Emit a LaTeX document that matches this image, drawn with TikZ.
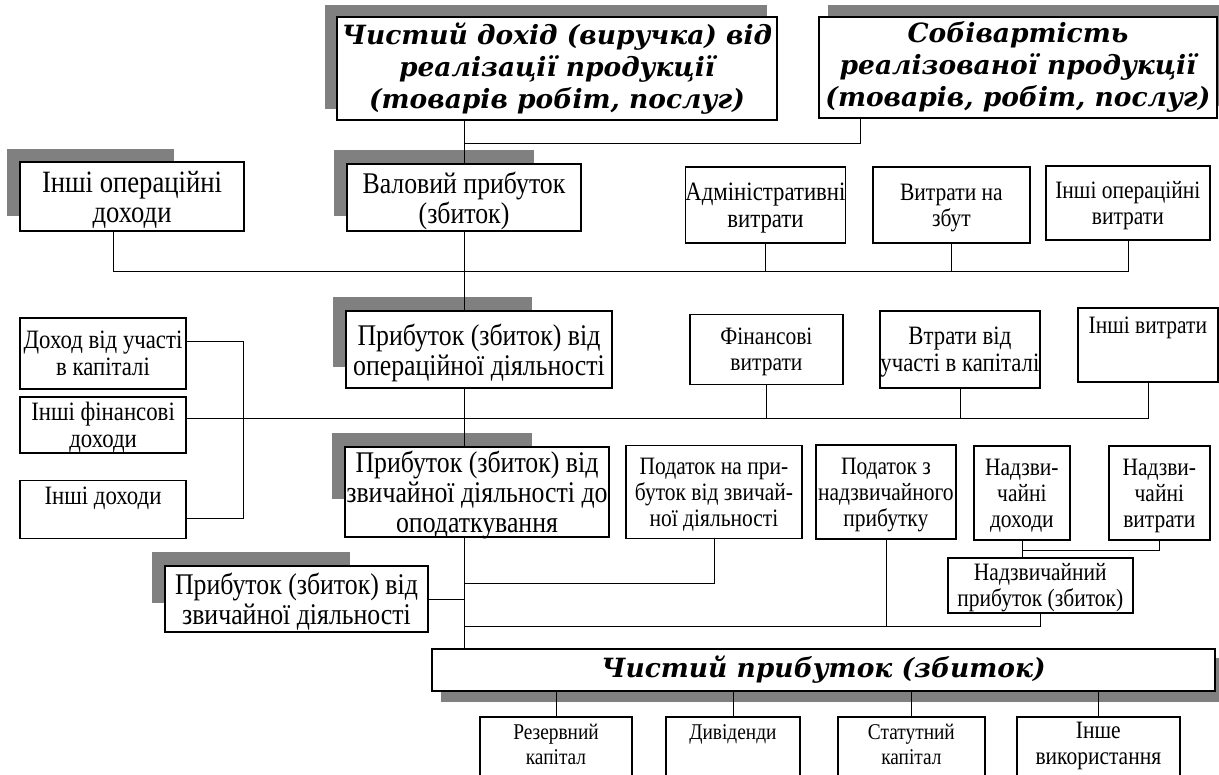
\documentclass[tikz,border=0pt]{standalone}
\usepackage{fontspec}
\setmainfont{Liberation Serif}[FakeStretch=0.86]
\newfontfamily\bookfont{DejaVu Serif}
\usetikzlibrary{calc,backgrounds}
\definecolor{shadowgray}{RGB}{128,128,128}

\begin{document}
\begin{tikzpicture}[x=1pt, y=1pt,
  box/.style={rectangle, draw, fill=white, line width=1.5pt, align=center, inner sep=0pt},
  titletxt/.style={font=\bookfont\bfseries\itshape\fontsize{26.5}{32}\selectfont},
  hugetxt/.style={font=\fontsize{31}{30}\selectfont, text depth=-1pt},
  bigtxt/.style={font=\fontsize{30}{30}\selectfont, text depth=-1pt},
  widetxt/.style={font=\fontsize{26.5}{27}\selectfont, text depth=-1pt},
  midtxt/.style={font=\fontsize{25}{26}\selectfont, text depth=-1pt},
  smalltxt/.style={font=\fontsize{22.5}{25}\selectfont, text depth=-1pt},
  grayshadow/.style={fill=shadowgray}]
  \path[use as bounding box] (0,0) rectangle (1219,-775);
  \clip (0,0) rectangle (1219,-775);

  % top: revenue and cost of sales
  \node (dokhid) [box, titletxt, minimum width=440pt, minimum height=103pt] at (557,-68.5) {Чистий дохід (виручка) від\\реалізації продукції\\(товарів робіт, послуг)};
  \node (sobivart) [box, titletxt, minimum width=398pt, minimum height=101pt, right of=dokhid, xshift=432.5pt, yshift=1pt] {Собівартість\\реалізованої продукції\\(товарів, робіт, послуг)};

  % gross profit row
  \node (valovyi) [box, bigtxt, minimum width=234pt, minimum height=67pt, below of=dokhid, xshift=-93pt, yshift=-100.5pt] {Валовий прибуток\\(збиток)};
  \node (inshopdokh) [box, hugetxt, minimum width=224pt, minimum height=69pt, left of=valovyi, xshift=-303.5pt, yshift=1pt] {Інші операційні\\доходи};
  \node (admin) [box, widetxt, minimum width=157pt, minimum height=76pt, right of=valovyi, xshift=273pt, yshift=-7.5pt] {Адміністративні\\витрати};
  \node (zbut) [box, midtxt, minimum width=157pt, minimum height=76pt, right of=admin, xshift=157.5pt] {Витрати на\\збут};
  \node (inshopvytr) [box, midtxt, minimum width=164pt, minimum height=74pt, right of=zbut, xshift=148pt, yshift=2pt] {Інші операційні\\витрати};

  % operating profit row
  \node (operat) [box, bigtxt, minimum width=266pt, minimum height=77pt, below of=valovyi, xshift=15pt, yshift=-123.5pt] {Прибуток (збиток) від\\операційної діяльності};
  \node (uchast) [box, widetxt, minimum width=166pt, minimum height=71pt, left of=operat, xshift=-347.5pt, yshift=-4pt] {Доход від участі\\в капіталі};
  \node (finvytr) [box, midtxt, minimum width=153pt, minimum height=70pt, right of=operat, xshift=259pt] {Фінансові\\витрати};
  \node (vtraty) [box, widetxt, minimum width=160pt, minimum height=77pt, right of=finvytr, xshift=165pt] {Втрати від\\участі в капіталі};
  \node (inshvytr) [box, midtxt, minimum width=140pt, minimum height=74pt, right of=vtraty, xshift=159.5pt, yshift=4.5pt] {Інші витрати\\[14pt]\mbox{}};
  \node (inshfin) [box, widetxt, minimum width=166pt, minimum height=56pt, below of=uchast, yshift=-43pt] {Інші фінансові\\доходи};
  \node (inshdokh) [box, widetxt, minimum width=166pt, minimum height=58pt, below of=inshfin, yshift=-56pt] {Інші доходи\\\mbox{}};

  % profit before tax row
  \node (opodat) [box, bigtxt, minimum width=264pt, minimum height=90pt, below of=operat, xshift=-2pt, yshift=-114pt] {Прибуток (збиток) від\\звичайної діяльності до\\оподаткування};
  \node (podprub) [box, midtxt, minimum width=176pt, minimum height=93pt, right of=opodat, xshift=208.5pt] {Податок на при-\\буток від звичай-\\ної діяльності};
  \node (podnadz) [box, midtxt, minimum width=140pt, minimum height=94pt, right of=podprub, xshift=143.5pt] {Податок з\\надзвичайного\\прибутку};
  \node (nadzdokh) [box, midtxt, minimum width=96pt, minimum height=94pt, right of=podnadz, xshift=107.5pt, yshift=-1pt] {Надзви-\\чайні\\доходи};
  \node (nadzvytr) [box, midtxt, minimum width=101pt, minimum height=94pt, right of=nadzdokh, xshift=109pt] {Надзви-\\чайні\\витрати};
  \node (nadzprub) [box, midtxt, minimum width=185pt, minimum height=55pt, below of=nadzdokh, xshift=18.5pt, yshift=-64pt] {Надзвичайний\\прибуток (збиток)};
  \node (zvych) [box, bigtxt, minimum width=263pt, minimum height=66pt, below of=opodat, xshift=-180.5pt, yshift=-78.5pt] {Прибуток (збиток) від\\звичайної діяльності};

  % net profit and its use
  \node (chystyi) [box, titletxt, minimum width=783pt, minimum height=42pt, below of=opodat, xshift=346.5pt, yshift=-149.5pt] {Чистий прибуток (збиток)};
  \node (reserv) [box, smalltxt, minimum width=152pt, minimum height=80pt, below of=chystyi, xshift=-267.5pt, yshift=-58.5pt] {Резервний\\капітал\\\mbox{}};
  \node (dyvid) [box, smalltxt, minimum width=134pt, minimum height=80pt, right of=reserv, xshift=148.5pt] {Дивіденди\\\mbox{}\\\mbox{}};
  \node (statut) [box, smalltxt, minimum width=147pt, minimum height=80pt, right of=dyvid, xshift=150pt] {Статутний\\капітал\\\mbox{}};
  \node (inshe) [box, midtxt, minimum width=163pt, minimum height=80pt, right of=statut, xshift=158.5pt] {Інше\\використання\\\mbox{}};

  \coordinate (t1) at ($(dokhid.south -| valovyi)+(0,-22)$);
  \coordinate (b1) at ($(valovyi.south)+(0,-39)$);
  \coordinate (b2) at ([yshift=7pt]inshfin.east);
  \coordinate (b3) at ($(podprub.south)+(0,-44)$);
  \coordinate (b4) at ($(nadzprub.south)+(0,-13)$);
  \coordinate (b5) at ($(nadzdokh.south)+(0,-10)$);

  \begin{scope}[on background layer, line width=1.3pt]
    % shadows
    \fill[grayshadow] ([shift={(-11,11)}]dokhid.north west) rectangle ++(442,-104);
    \fill[grayshadow] ([shift={(10,11)}]sobivart.north west) rectangle ++(398,-101);
    \fill[grayshadow] ([shift={(-12,12)}]inshopdokh.north west) rectangle ++(167,-67);
    \fill[grayshadow] ([shift={(-12,13)}]valovyi.north west) rectangle ++(200,-66);
    \fill[grayshadow] ([shift={(-12,13)}]operat.north west) rectangle ++(199,-70);
    \fill[grayshadow] ([shift={(-12,13)}]opodat.north west) rectangle ++(200,-66);
    \fill[grayshadow] ([shift={(-12,13)}]zvych.north west) rectangle ++(198,-51);
    \fill[grayshadow] ([shift={(10,-10)}]chystyi.south west) rectangle ([shift={(10,-10)}]chystyi.north east);

    % connectors
    \draw (dokhid.south -| valovyi) -- (valovyi.north);
    \draw ([xshift=42pt]sobivart.south west) |- (t1);
    \draw ([xshift=-19pt]inshopdokh.south) |- (inshopvytr.south |- b1) -- (inshopvytr.south);
    \draw (admin.south) -- (admin.south |- b1);
    \draw (zbut.south) -- (zbut.south |- b1);
    \draw (valovyi.south) -- (operat.north -| valovyi);
    \draw (b2) -| (inshvytr.south);
    \draw (finvytr.south) -- (finvytr.south |- b2);
    \draw (vtraty.south) -- (vtraty.south |- b2);
    \draw ([yshift=12pt]uchast.east) -- ++(56,0) |- ([yshift=-9pt]inshdokh.east);
    \draw (operat.south -| valovyi) -- (opodat.north -| valovyi);
    \draw (opodat.south -| valovyi) -- (chystyi.north -| valovyi);
    \draw (podprub.south) |- (b3 -| valovyi);
    \draw (zvych.east) -- (zvych.east -| valovyi);
    \draw (nadzprub.south) |- (b4 -| valovyi);
    \draw (podnadz.south) -- (podnadz.south |- b4);
    \draw (nadzvytr.south) |- (b5);
    \draw (nadzdokh.south) -- (nadzdokh.south |- nadzprub.north);
    \draw (chystyi.south -| reserv.north) -- (reserv.north);
    \draw (chystyi.south -| dyvid.north) -- (dyvid.north);
    \draw (chystyi.south -| statut.north) -- (statut.north);
    \draw (chystyi.south -| inshe.north) -- (inshe.north);
  \end{scope}
\end{tikzpicture}
\end{document}
